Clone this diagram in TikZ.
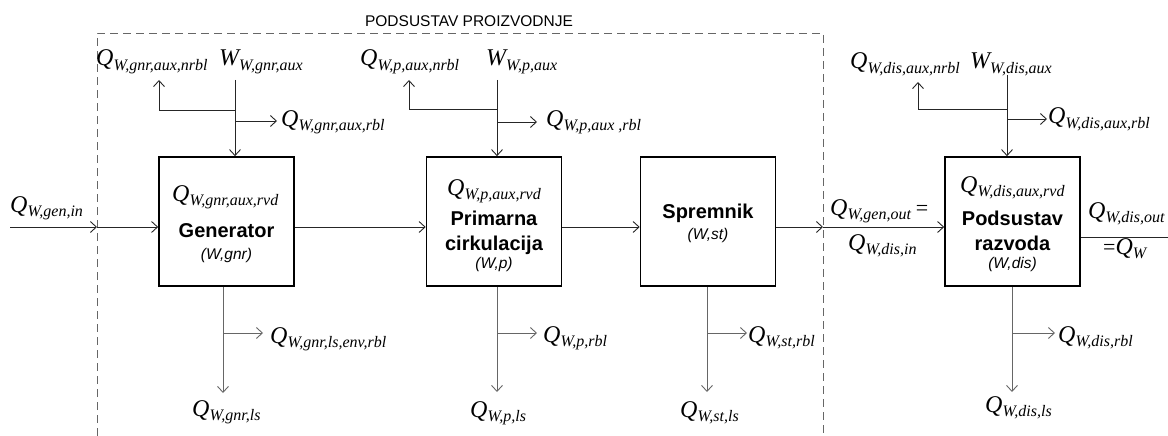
\documentclass[tikz,border=0pt]{standalone}
\usepackage{fontspec}
\setmainfont{Liberation Serif}
\newfontfamily\sansf{Liberation Sans}
\usetikzlibrary{arrows.meta}
\newcommand\lbl[2]{{\fontsize{24}{24}\selectfont\itshape #1}{\fontsize{16}{16}\selectfont\itshape\raisebox{-4.5pt}{#2}}}
\newcommand\eqs{{\fontsize{22}{22}\selectfont =}}
\begin{document}
\begin{tikzpicture}[x=1pt,y=-1pt,
  box/.style={draw, line width=1.6pt, minimum width=135pt, minimum height=129pt, inner sep=0pt},
  lab/.style={inner sep=0pt, anchor=base west},
  flow/.style={line width=0.9pt, draw=black!85, -{Straight Barb[length=6pt,width=11pt]}},
  plain/.style={line width=0.9pt, draw=black!85},
  lossflow/.style={flow, draw=black!60},
  dashbox/.style={draw=black!60, line width=0.8pt, dash pattern=on 8pt off 5pt},
  boxtitle/.style={font=\sansf\bfseries\fontsize{20}{23}\selectfont, inner sep=0pt, anchor=base},
  boxsub/.style={font=\sansf\itshape\fontsize{15.5}{18}\selectfont, inner sep=0pt, anchor=base},
  grptitle/.style={font=\sansf\fontsize{15.5}{18}\selectfont, inner sep=0pt, anchor=base}]
\useasboundingbox (0,0) rectangle (1168,436);
% group
\draw[dashbox] (97,436) -- (97,33) -- (823,33) -- (823,436);
\node[grptitle] (grp) at (469,27) {PODSUSTAV PROIZVODNJE};
% boxes
\node[box] (gen)  at (226.5,221.5) {};
\node[box] (prim) at (494,221.5) {};
\node[box] (spr)  at (708,221.5) {};
\node[box] (dis)  at (1012.5,221.5) {};
% box texts
\node[lab] (genq) at (172,201) {\lbl{Q}{W,gnr,aux,rvd}};
\node[boxtitle] (gent) at (226.5,237) {Generator};
\node[boxsub] (gens) at (226.5,259) {(W,gnr)};
\node[lab] (primq) at (447,195) {\lbl{Q}{W,p,aux,rvd}};
\node[boxtitle] (primt1) at (494,225) {Primarna};
\node[boxtitle] (primt2) at (494,250) {cirkulacija};
\node[boxsub] (prims) at (494,268) {(W,p)};
\node[boxtitle] (sprt) at (708,218) {Spremnik};
\node[boxsub] (sprs) at (708,239) {(W,st)};
\node[lab] (disq) at (960,192) {\lbl{Q}{W,dis,aux,rvd}};
\node[boxtitle] (dist1) at (1012.5,225) {Podsustav};
\node[boxtitle] (dist2) at (1012.5,250) {razvoda};
\node[boxsub] (diss) at (1012.5,268) {(W,dis)};
% main flow coordinates
\coordinate (in0) at (10,227);
\coordinate (inb) at (97,227);
\coordinate (outb) at (823,227);
\coordinate (out1) at (1168,237);
\draw[flow] (in0) -- (inb);
\draw[flow] (inb) -- (gen.west |- inb);
\draw[flow] (gen.east |- inb) -- (prim.west |- inb);
\draw[flow] (prim.east |- inb) -- (spr.west |- inb);
\draw[flow] (spr.east |- outb) -- (outb);
\draw[flow] (outb) -- (dis.west |- outb);
\draw[plain] (dis.east |- out1) -- (out1);
% flow labels
\node[lab] (qin) at (10,212) {\lbl{Q}{W,gen,in}};
\node[lab] (qgo) at (830,215) {\lbl{Q}{W,gen,out}\hspace{5pt}\eqs};
\node[lab] (qdi) at (848,250) {\lbl{Q}{W,dis,in}};
\node[lab] (qdo) at (1088,218) {\lbl{Q}{W,dis,out}};
\node[lab] (qw)  at (1103,254) {\eqs\lbl{Q}{W}};
% generator aux
\coordinate (ga0) at (235,80);
\coordinate (ga1) at (235,110);
\coordinate (ga2) at (235,121);
\coordinate (gn)  at (159,80);
\coordinate (gr)  at (277,121);
\draw[flow] (ga0) -- (gen.north -| ga0);
\draw[flow] (ga1) -| (gn);
\draw[flow] (ga2) -- (gr);
\node[lab] (gnl) at (96,66) {\lbl{Q}{W,gnr,aux,nrbl}};
\node[lab] (gwl) at (219,66) {\lbl{W}{W,gnr,aux}};
\node[lab] (grl) at (281,126) {\lbl{Q}{W,gnr,aux,rbl}};
% generator losses
\coordinate (gl0) at (223,333);
\coordinate (gl1) at (223,393);
\coordinate (gl2) at (263,333);
\draw[lossflow] (gen.south -| gl0) -- (gl1);
\draw[lossflow] (gl0) -- (gl2);
\node[lab] (glr) at (270,343) {\lbl{Q}{W,gnr,ls,env,rbl}};
\node[lab] (gll) at (192,416) {\lbl{Q}{W,gnr,ls}};
% primary aux
\coordinate (pa0) at (497,80);
\coordinate (pa1) at (497,109);
\coordinate (pa2) at (497,122);
\coordinate (pn)  at (409,80);
\coordinate (pr)  at (537,122);
\draw[flow] (pa0) -- (prim.north -| pa0);
\draw[flow] (pa1) -| (pn);
\draw[flow] (pa2) -- (pr);
\node[lab] (pnl) at (360,66) {\lbl{Q}{W,p,aux,nrbl}};
\node[lab] (pwl) at (486,66) {\lbl{W}{W,p,aux}};
\node[lab] (prl) at (546,126) {\lbl{Q}{W,p,aux ,rbl}};
% primary losses
\coordinate (pl0) at (497,333);
\coordinate (pl1) at (497,392);
\coordinate (pl2) at (537,333);
\draw[lossflow] (prim.south -| pl0) -- (pl1);
\draw[lossflow] (pl0) -- (pl2);
\node[lab] (plr) at (543,342) {\lbl{Q}{W,p,rbl}};
\node[lab] (pll) at (470,417) {\lbl{Q}{W,p,ls}};
% storage losses
\coordinate (sl0) at (707,333);
\coordinate (sl1) at (707,392);
\coordinate (sl2) at (747,333);
\draw[lossflow] (spr.south -| sl0) -- (sl1);
\draw[lossflow] (sl0) -- (sl2);
\node[lab] (slr) at (748,342) {\lbl{Q}{W,st,rbl}};
\node[lab] (sll) at (680,417) {\lbl{Q}{W,st,ls}};
% distribution aux
\coordinate (da0) at (1007,75);
\coordinate (da1) at (1007,109);
\coordinate (da2) at (1007,119);
\coordinate (dn)  at (918,82);
\coordinate (dr)  at (1047,119);
\draw[flow] (da0) -- (dis.north -| da0);
\draw[flow] (da1) -| (dn);
\draw[flow] (da2) -- (dr);
\node[lab] (dnl) at (850,69) {\lbl{Q}{W,dis,aux,nrbl}};
\node[lab] (dwl) at (970,69) {\lbl{W}{W,dis,aux}};
\node[lab] (drl) at (1048,124) {\lbl{Q}{W,dis,aux,rbl}};
% distribution losses
\coordinate (dl0) at (1012,333);
\coordinate (dl1) at (1012,392);
\coordinate (dl2) at (1055,333);
\draw[lossflow] (dis.south -| dl0) -- (dl1);
\draw[lossflow] (dl0) -- (dl2);
\node[lab] (dlr) at (1058,342) {\lbl{Q}{W,dis,rbl}};
\node[lab] (dll) at (985,412) {\lbl{Q}{W,dis,ls}};
\end{tikzpicture}
\end{document}
